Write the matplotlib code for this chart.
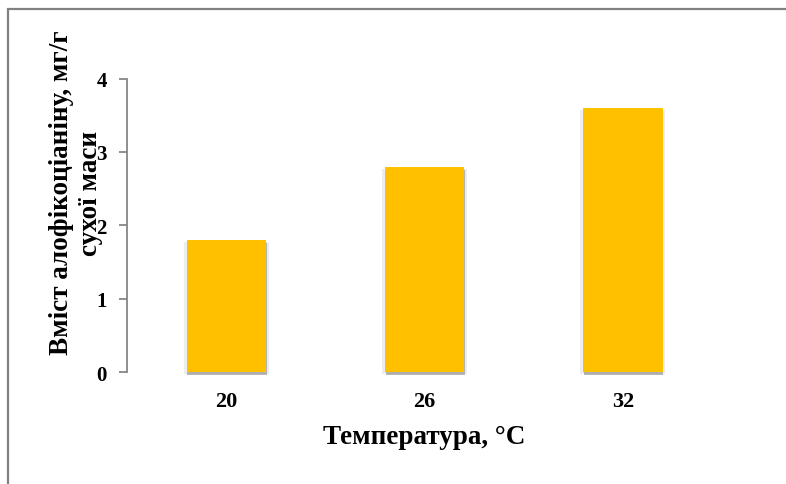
import matplotlib.pyplot as plt
import matplotlib.patheffects as pe
from matplotlib.patches import Rectangle

# allophycocyanin content vs. growth temperature
temps = ['20', '26', '32']
content = [1.8, 2.8, 3.6]
yticks = [0, 1, 2, 3, 4]

bar_color = '#FFC000'
axis_gray = '#868686'
serif = 'Liberation Serif'

fig = plt.figure(figsize=(7.86, 4.85), dpi=100)
ax = fig.add_axes([0.1616, 0.2309, 0.757, 0.605])

# outer frame (cut off at the right and bottom edges)
fig.patches.append(Rectangle((8 / 786, -0.1), 1.2, (485 - 10) / 485 + 0.1,
                             transform=fig.transFigure, fill=False,
                             edgecolor='#808080', linewidth=1.6))

x = range(len(temps))
bars = ax.bar(x, content, width=0.4, color=bar_color, zorder=3, clip_on=False)
for b in bars:
    # soft drop shadow, heaviest under the bar
    b.set_path_effects([
        pe.SimplePatchShadow(offset=(2, -1.5), shadow_rgbFace='#cccccc', alpha=0.35),
        pe.SimplePatchShadow(offset=(-2, -1.5), shadow_rgbFace='#cccccc', alpha=0.35),
        pe.SimplePatchShadow(offset=(0.5, -2.5), shadow_rgbFace='#999999', alpha=0.7),
        pe.Normal(),
    ])

ax.set_xlim(-0.5, 2.5)
ax.set_ylim(0, 4)
ax.set_xticks(list(x))
ax.set_xticklabels(temps)
ax.set_yticks(yticks)

for s in ['top', 'right', 'bottom']:
    ax.spines[s].set_visible(False)
ax.spines['left'].set_color(axis_gray)
ax.spines['left'].set_linewidth(1.3)

ax.tick_params(axis='y', direction='out', length=5.5, width=1.3, color=axis_gray, pad=9)
ax.tick_params(axis='x', length=0, pad=14)
for lbl in ax.get_yticklabels():
    lbl.set_fontfamily(serif)
    lbl.set_fontweight('bold')
    lbl.set_fontsize(15)
for lbl in ax.get_xticklabels():
    lbl.set_fontfamily(serif)
    lbl.set_fontweight('bold')
    lbl.set_fontsize(16)

ax.set_xlabel('Температура, °С', fontfamily=serif, fontweight='bold',
              fontsize=19.5, labelpad=9)

fig.text(76 / 786, (485 - 193) / 485, 'Вміст алофікоціаніну, мг/г\nсухої маси',
         rotation=90, ha='center', va='center', multialignment='center',
         fontfamily=serif, fontweight='bold', fontsize=19.5, linespacing=1.2)

fig.savefig('out.png', dpi=100)
